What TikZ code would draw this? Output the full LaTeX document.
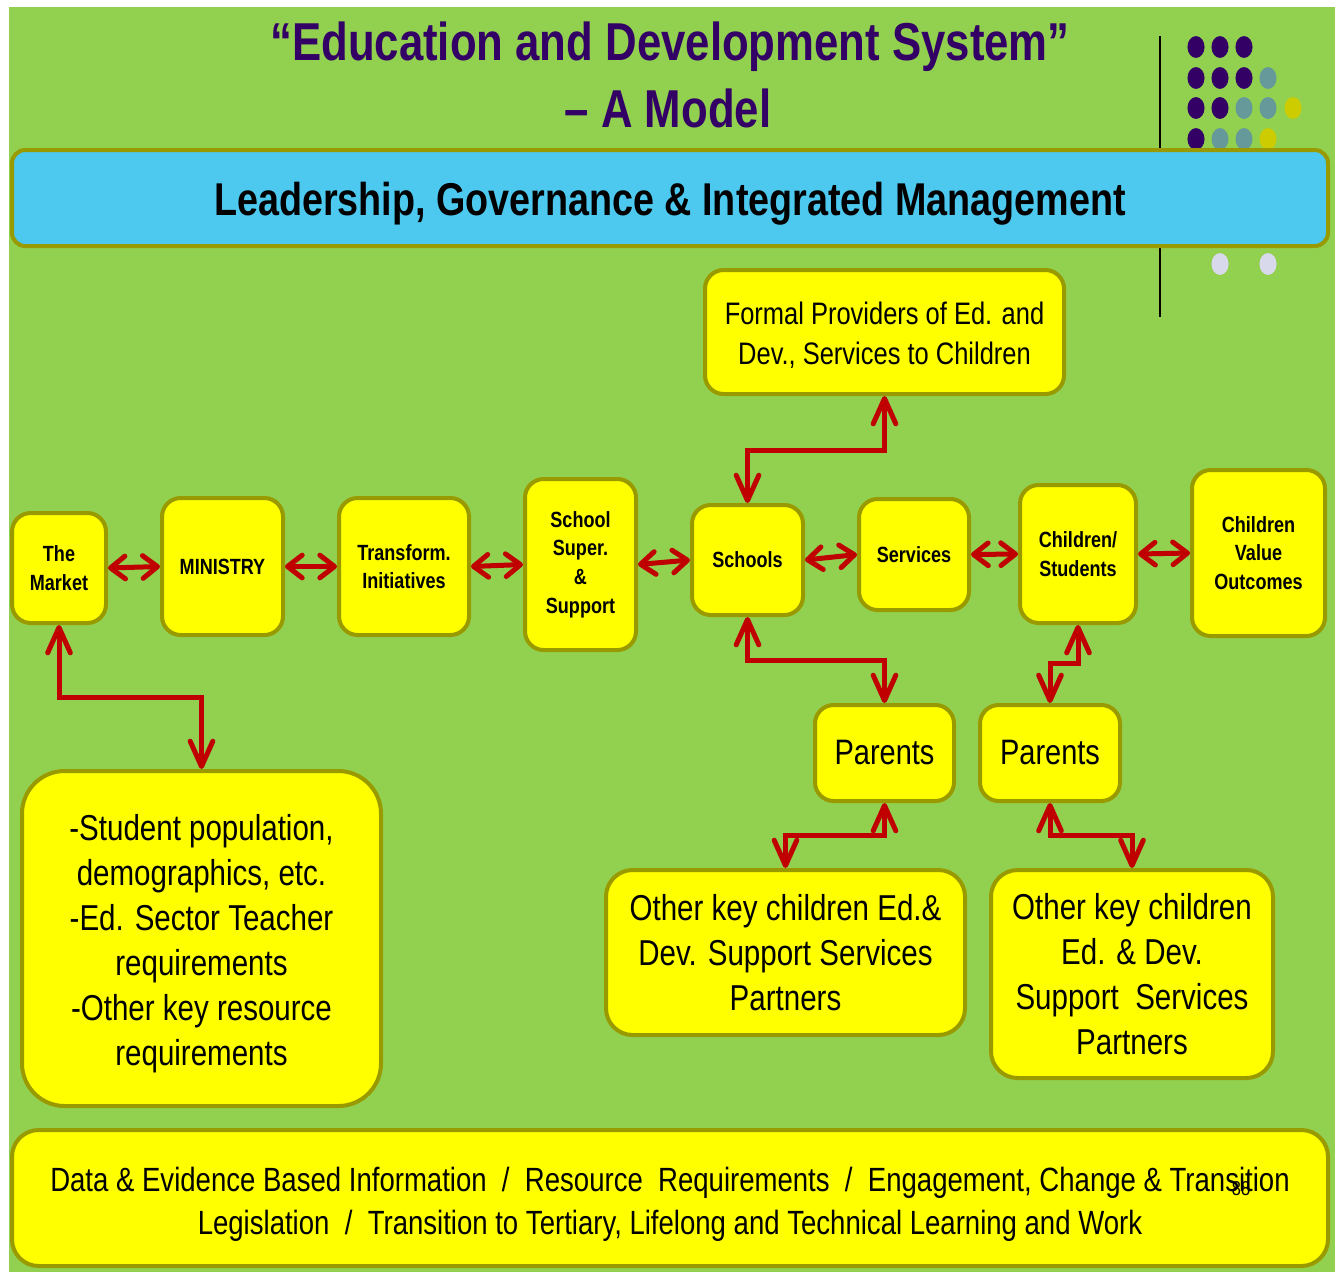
\documentclass[tikz,border=0pt]{standalone}
\usepackage{fontspec}
\newfontfamily\nf[FakeStretch=0.82]{Liberation Sans}
\usetikzlibrary{arrows.meta}
\definecolor{bggreen}{HTML}{92D050}
\definecolor{boxolive}{HTML}{999900}
\definecolor{boxyellow}{HTML}{FFFF00}
\definecolor{bannerblue}{HTML}{4DC9F0}
\definecolor{arrowred}{HTML}{C00000}
\definecolor{titlepurple}{HTML}{330066}
\definecolor{dotteal}{HTML}{669999}
\definecolor{dotyellow}{HTML}{CCCC00}
\definecolor{dotlav}{HTML}{D9D9EC}
\begin{document}
\begin{tikzpicture}[x=0.75pt,y=-0.75pt,
  box/.style={draw=boxolive, line width=3pt, fill=boxyellow, rounded corners=14pt, align=center, inner sep=0pt,
    font=\nf\bfseries\fontsize{16.5pt}{21.4pt}\selectfont},
  bigbox/.style={box, font=\nf\fontsize{27pt}{33.75pt}\selectfont, rounded corners=20pt},
  plaintext/.style={align=center, inner sep=0pt},
  hdbl/.style={draw=arrowred, line width=3.75pt,
    {Straight Barb[length=11pt,width=17pt,round]}-{Straight Barb[length=11pt,width=17pt,round]}},
  vdbl/.style={draw=arrowred, line width=3.75pt,
    {Straight Barb[length=19pt,width=17pt,round]}-{Straight Barb[length=19pt,width=17pt,round]}},
  dotp/.style={fill=titlepurple},
  dott/.style={fill=dotteal},
  doty/.style={fill=dotyellow},
  dotl/.style={fill=dotlav}
]
\useasboundingbox (0,0) rectangle (1335,1272);
\fill[white] (0,0) rectangle (1335,1272);
\fill[bggreen] (9,7) rectangle (1335,1272);

% decoration line and dots
\draw[black, line width=1.5pt] (1160,36) -- (1160,317);
\foreach \x/\y/\s in {1196/47/dotp,1220/47/dotp,1244/47/dotp,
  1196/78/dotp,1220/78/dotp,1244/78/dotp,1268/78/dott,
  1196/108/dotp,1220/108/dotp,1244/108/dott,1268/108/dott,1293/108/doty,
  1196/139/dotp,1220/139/dott,1244/139/dott,1268/139/doty,
  1220/264/dotl,1268/264/dotl}
  \path[\s] (\x,\y) ellipse [x radius=6.4pt, y radius=8.2pt];

% title
\node[anchor=base, text=titlepurple, font=\nf\bfseries\fontsize{40pt}{48pt}\selectfont] (title1) at (670,60) {“Education and Development System”};
\node[anchor=base, text=titlepurple, font=\nf\bfseries\fontsize{40pt}{48pt}\selectfont] (title2) at (668,127) {– A Model};

% banner
\node[draw=boxolive, line width=3pt, fill=bannerblue, rounded corners=10pt, minimum width=987pt, minimum height=72pt] (banner) at (670,198) {};
\node[plaintext, font=\nf\bfseries\fontsize{34.5pt}{40pt}\selectfont] (bannertext) at (670,204) {Leadership, Governance \& Integrated Management};

% main row
\node[box, minimum width=70.5pt, minimum height=82.5pt] (market) at (59,568) {The\\Market};
\node[box, minimum width=90.75pt, minimum height=102.75pt] (ministry) at (222.5,566.5) {MINISTRY};
\node[box, minimum width=97.5pt, minimum height=102.75pt] (transform) at (404,566.5) {Transform.\\Initiatives};
\node[box, minimum width=83.25pt, minimum height=128.25pt] (super) at (580.5,564.5) {School\\Super.\\\&\\Support};
\node[box, minimum width=83.25pt, minimum height=82.5pt] (schools) at (747.5,560) {Schools};
\node[box, minimum width=82.5pt, minimum height=83.25pt] (services) at (914,554.5) {Services};
\node[box, minimum width=87pt, minimum height=103.5pt] (children) at (1078,554) {Children/\\Students};
\node[box, minimum width=99.75pt, minimum height=124.5pt] (cvo) at (1258.5,553) {Children\\Value\\Outcomes};

% other boxes
\node[box, minimum width=269.25pt, minimum height=93pt] (formal) at (884.5,332) {};
\node[plaintext, font=\nf\fontsize{23.3pt}{30pt}\selectfont] (formaltext) at (884.5,335) {Formal Providers of Ed. and\\Dev., Services to Children};
\node[box, minimum width=104.25pt, minimum height=72pt, font=\nf\fontsize{26.5pt}{32pt}\selectfont] (parents1) at (884.5,753) {Parents};
\node[box, minimum width=105pt, minimum height=72pt, font=\nf\fontsize{26.5pt}{32pt}\selectfont] (parents2) at (1050,753) {Parents};
\node[box, minimum width=269.25pt, minimum height=251.25pt, rounded corners=32pt] (marketinfo) at (201.5,938.5) {};
\node[plaintext, font=\nf\fontsize{27pt}{33.75pt}\selectfont] (marketinfotext) at (201.5,943.5)
  {-Student population,\\demographics, etc.\\-Ed. Sector Teacher\\requirements\\-Other key resource\\requirements};
\node[bigbox, minimum width=269.25pt, minimum height=123.75pt] (other1) at (785.5,952.5)
  {Other key children Ed.\&\\Dev. Support Services\\Partners};
\node[bigbox, minimum width=211.5pt, minimum height=156pt] (other2) at (1132,974)
  {Other key children\\Ed. \& Dev.\\Support\ \ Services\\Partners};
\node[box, minimum width=987pt, minimum height=102pt, rounded corners=20pt] (bottom) at (670,1198) {};
\node[plaintext, font=\nf\fontsize{25.2pt}{32pt}\selectfont] (bottomtext) at (670,1204)
  {Data \& Evidence Based Information\ \ /\ \ Resource\ \ Requirements\ \ /\ \ Engagement, Change \& Transition\\Legislation\ \ /\ \ Transition to Tertiary, Lifelong and Technical Learning and Work};
\node[font=\nf\fontsize{15pt}{18pt}\selectfont, inner sep=0pt] (pagenum) at (1241,1189) {88};

% horizontal connectors
\draw[hdbl] (market.east) -- (ministry.west);
\draw[hdbl] (ministry.east) -- (transform.west);
\draw[hdbl] (transform.east) -- (super.west);
\draw[hdbl] (super.east) -- (schools.west);
\draw[hdbl] (schools.east) -- (services.west);
\draw[hdbl] (services.east) -- (children.west);
\draw[hdbl] (children.east) -- (cvo.west);

% elbow connectors
\coordinate (j1) at (130,697);
\coordinate (j2) at (816,450);
\coordinate (j3) at (816,660);
\coordinate (j4) at (1064,663);
\coordinate (j5) at (835,835);
\coordinate (j6) at (1090,835);
\draw[vdbl] (market.south) |- (j1) -| (marketinfo.north);
\draw[vdbl] (schools.north) |- (j2) -| (formal.south);
\draw[vdbl] (schools.south) |- (j3) -| (parents1.north);
\draw[vdbl] (children.south) |- (j4) -| (parents2.north);
\draw[vdbl] (parents1.south) |- (j5) -| (other1.north);
\draw[vdbl] (parents2.south) |- (j6) -| (other2.north);
\end{tikzpicture}
\end{document}
